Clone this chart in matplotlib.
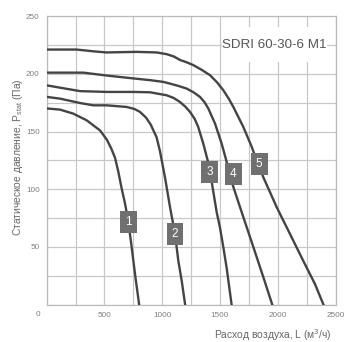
import matplotlib
matplotlib.use('Agg')
import matplotlib.pyplot as plt
from matplotlib.patches import Rectangle

plt.rcParams['font.family'] = ['Liberation Sans', 'DejaVu Sans']

# airflow (m3/h) vs static pressure (Pa) for the 5 speed steps
x1 = [0, 115, 230, 346, 461, 520, 560, 592, 620, 650, 677, 706, 735, 764, 800]
y1 = [170, 169, 165.5, 159.7, 151, 143, 135, 127, 115, 100, 88, 72, 50, 26.6, 0]

x2 = [0, 115, 288, 403, 519, 692, 760, 807, 860, 900, 951, 980, 1024, 1067, 1110, 1139, 1168, 1198]
y2 = [180, 178.5, 174.7, 172.7, 172.7, 171.3, 169.5, 167, 162, 156, 145, 133, 110, 84.5, 61.3, 38, 20.8, 0]

x3 = [0, 115, 288, 519, 749, 894, 1038, 1100, 1153, 1200, 1240, 1280, 1311, 1355, 1398, 1430, 1471, 1499, 1528, 1557, 1600]
y3 = [190, 188, 185, 184.3, 184.3, 184, 181.4, 179, 175.6, 171.5, 167, 161, 154, 139.5, 123, 105, 80, 67, 50, 32, 0]

x4 = [0, 317, 519, 750, 894, 1009, 1067, 1140, 1211, 1270, 1326, 1365, 1398, 1456, 1514, 1562, 1615, 1701, 1788, 1874, 1952]
y4 = [201, 201, 198.5, 196, 194.5, 193, 191.5, 189.5, 187.2, 184, 180, 175.5, 170, 157, 139.5, 122, 102, 76, 50, 24, 0]

x5 = [0, 260, 400, 519, 778, 951, 1038, 1100, 1153, 1210, 1269, 1340, 1413, 1475, 1528, 1575, 1615, 1701, 1773, 1817, 1874, 1990, 2105, 2220, 2321, 2395]
y5 = [221, 221, 219.5, 218.5, 219, 218.5, 217, 215, 212, 210, 207.5, 203.5, 198.8, 192.5, 185.8, 178.5, 171.3, 154, 137, 125, 110.5, 84.5, 61.3, 38, 18, 0]

curves = [(x1, y1), (x2, y2), (x3, y3), (x4, y4), (x5, y5)]
curve_names = ['1', '2', '3', '4', '5']
label_x = [706, 1110, 1407, 1615, 1839]
label_y = [72, 61, 115, 113, 122]

model = 'SDRI 60-30-6 M1'

fig = plt.figure(figsize=(3.46, 3.42), dpi=100)
ax = fig.add_axes([0.135, 0.109, 0.835, 0.844])

ax.set_xlim(0, 2500)
ax.set_ylim(0, 250)
ax.set_xticks(range(0, 2501, 250))
ax.set_yticks(range(0, 251, 25))
ax.grid(True, color='#c8c8c8', linewidth=0.9, zorder=0)
ax.set_axisbelow(True)
ax.tick_params(length=0, labelsize=5.9, colors='#808080', pad=5)
ax.set_xticklabels(['' if v == 0 or v % 500 else str(v) for v in range(0, 2501, 250)])
ax.set_yticklabels(['' if v == 0 or v % 50 else str(v) for v in range(0, 251, 25)])
for s in ax.spines.values():
    s.set_color('#bbbbbb')
    s.set_linewidth(0.9)

for (xs, ys) in curves:
    ax.plot(xs, ys, color='#444444', linewidth=1.7, solid_joinstyle='round', zorder=3)

for name, lx, ly in zip(curve_names, label_x, label_y):
    ax.text(lx, ly, name, color='white', fontsize=8.5, ha='center', va='center', zorder=5,
            bbox=dict(boxstyle='square,pad=0.42', facecolor='#707070', edgecolor='none'))

# white box behind the model name
ax.add_patch(Rectangle((1516, 210), 909, 30.5, facecolor='white', edgecolor='none', zorder=2))
ax.text(1970, 225, model, fontsize=9.6, color='#555555', ha='center', va='center', zorder=4)

fig.text(38 / 346, 1 - 315 / 342, '0', fontsize=5.9, color='#808080', ha='center', va='center')
fig.text(332 / 346, 1 - 335 / 342, 'Расход воздуха, L (м$^3$/ч)', fontsize=7.4, color='#666666',
         ha='right', va='center')
fig.text(18 / 346, 1 - 157 / 342, r'Статическое давление, P$_{\mathregular{stat}}$ (Па)', fontsize=7.4,
         color='#666666', ha='center', va='center', rotation=90)

fig.savefig('out.png', dpi=100)
